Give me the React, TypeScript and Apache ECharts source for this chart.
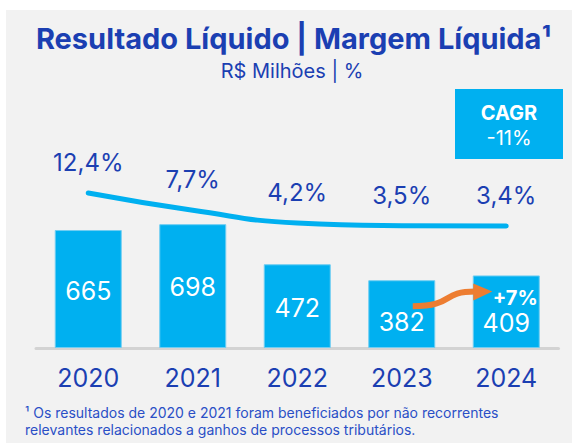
import React, { useEffect, useRef } from "react";
import * as echarts from "echarts";

const years = ["2020", "2021", "2022", "2023", "2024"];
const netIncome = [665, 698, 472, 382, 409];
const netMargin = [12.4, 7.7, 4.2, 3.5, 3.4];
const barLabelOffsets = [2, 1, 2, 7.5, 11.5];
const titleText = "Resultado Líquido | Margem Líquida¹";
const subtitleText = "R$ Milhões | %";
const cagrTitle = "CAGR";
const cagrValue = "-11%";
const growthLabel = "+7%";
const footnoteLines = [
  "¹ Os resultados de 2020 e 2021 foram beneficiados por não recorrentes",
  "relevantes relacionados a ganhos de processos tributários.",
];

const DARK_BLUE = "#1b3fb2";
const CYAN = "#00b0f0";
const ORANGE = "#ed7d31";
const FONT = "Inter";

export default function App() {
  const ref = useRef<HTMLDivElement>(null);
  useEffect(() => {
    if (!ref.current) return;
    const chart = echarts.init(ref.current, null, { renderer: "svg" });
    const baseGraphic: any[] = [
      {
        type: "rect",
        z: -10,
        shape: { x: 6, y: 10, width: 566, height: 433 },
        style: { fill: "#f2f2f2" },
        silent: true,
      },
      {
        type: "text",
        x: 293.5,
        y: 38,
        style: {
          text: titleText,
          font: `bold 29px ${FONT}`,
          fill: DARK_BLUE,
          textAlign: "center",
          textVerticalAlign: "middle",
        },
      },
      {
        type: "text",
        x: 292,
        y: 71,
        style: {
          text: subtitleText,
          font: `20px ${FONT}`,
          fill: DARK_BLUE,
          textAlign: "center",
          textVerticalAlign: "middle",
        },
      },
      {
        type: "rect",
        shape: { x: 455, y: 89, width: 108, height: 70 },
        style: { fill: CYAN },
      },
      {
        type: "text",
        x: 509,
        y: 113,
        style: {
          text: cagrTitle,
          font: `bold 20px ${FONT}`,
          fill: "#ffffff",
          textAlign: "center",
          textVerticalAlign: "middle",
        },
      },
      {
        type: "text",
        x: 509,
        y: 138,
        style: {
          text: cagrValue,
          font: `20px ${FONT}`,
          fill: "#ffffff",
          textAlign: "center",
          textVerticalAlign: "middle",
        },
      },
      ...footnoteLines.map((t, i) => ({
        type: "text",
        x: 25,
        y: 412 + i * 17,
        style: {
          text: t,
          font: `14px ${FONT}`,
          fill: "#2a4fc6",
          textAlign: "left",
          textVerticalAlign: "middle",
        },
      })),
    ];

    const option: any = {
      animation: false,
      backgroundColor: "#ffffff",
      grid: { left: 36, right: 13.5, top: 170.6, bottom: 95 },
      xAxis: {
        type: "category",
        data: years,
        axisLine: { lineStyle: { color: "#d3d3d3", width: 3 } },
        axisTick: { show: false },
        axisLabel: {
          color: DARK_BLUE,
          fontFamily: FONT,
          fontSize: 25,
          margin: 17,
        },
      },
      yAxis: [
        { type: "value", min: 0, max: 1000, show: false },
        { type: "value", min: -29.87, max: 18.51, show: false },
      ],
      series: [
        {
          type: "bar",
          barWidth: 67,
          data: netIncome.map((v, i) => ({
            value: v,
            label: { offset: [0, barLabelOffsets[i]] },
          })),
          itemStyle: { color: CYAN, borderColor: "#6fcdf2", borderWidth: 1 },
          label: {
            show: true,
            position: "inside",
            color: "#ffffff",
            fontFamily: FONT,
            fontSize: 25,
          },
          z: 2,
        },
        {
          type: "line",
          yAxisIndex: 1,
          data: netMargin,
          smooth: true,
          symbol: "circle",
          symbolSize: 1,
          showSymbol: true,
          itemStyle: { color: "rgba(0,0,0,0)" },
          lineStyle: { color: CYAN, width: 5, cap: "round" },
          label: {
            show: true,
            position: "top",
            distance: 18,
            color: DARK_BLUE,
            fontFamily: FONT,
            fontSize: 24,
            formatter: (p: any) => String(p.value).replace(".", ",") + "%",
          },
          z: 3,
        },
      ],
      graphic: baseGraphic,
    };
    chart.setOption(option);

    const p23 = chart.convertToPixel({ seriesIndex: 0 }, [3, netIncome[3]]) as number[];
    const p24 = chart.convertToPixel({ seriesIndex: 0 }, [4, netIncome[4]]) as number[];
    const sx = p23[0] + 11;
    const sy = p23[1] + 26;
    const tx = p24[0] - 14;
    const ty = p24[1] + 16;
    chart.setOption({
      graphic: [
        ...baseGraphic,
        {
          type: "bezierCurve",
          z: 10,
          shape: {
            x1: sx,
            y1: sy,
            cpx1: sx + 42,
            cpy1: sy,
            cpx2: tx - 52,
            cpy2: ty,
            x2: tx - 17,
            y2: ty,
          },
          style: { stroke: ORANGE, lineWidth: 6, fill: null },
        },
        {
          type: "polygon",
          z: 10,
          shape: {
            points: [
              [tx - 19, ty - 8],
              [tx, ty],
              [tx - 19, ty + 9],
            ],
          },
          style: { fill: ORANGE },
        },
        {
          type: "text",
          z: 10,
          x: p24[0] + 9,
          y: p24[1] + 23,
          style: {
            text: growthLabel,
            font: `bold 20px ${FONT}`,
            fill: "#ffffff",
            textAlign: "center",
            textVerticalAlign: "middle",
          },
        },
      ],
    });

    return () => chart.dispose();
  }, []);
  return (
    <div
      ref={ref}
      style={{ position: "absolute", left: 0, top: 0, width: 572, height: 443 }}
    />
  );
}
